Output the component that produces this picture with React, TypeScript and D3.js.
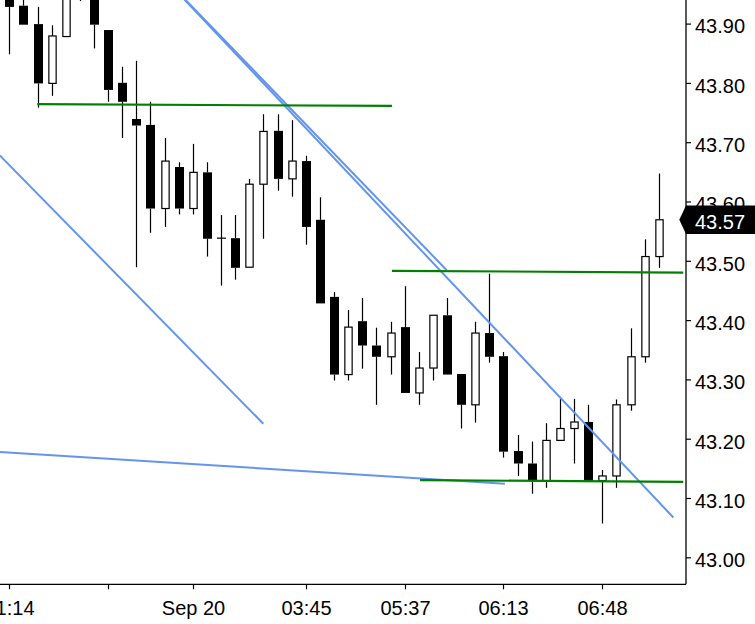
import React from "react";
import * as d3 from "d3";

// ---- data ----
const opens = [43.958, 43.931, 43.9, 43.8, 43.879, 43.958, 43.96, 43.89, 43.801, 43.74, 43.73, 43.589, 43.659, 43.589, 43.65, 43.539, 43.539, 43.49, 43.63, 43.72, 43.639, 43.669, 43.57, 43.44, 43.309, 43.399, 43.358, 43.339, 43.389, 43.278, 43.32, 43.409, 43.31, 43.258, 43.379, 43.34, 43.18, 43.159, 43.13, 43.198, 43.218, 43.229, 43.13, 43.138, 43.258, 43.339, 43.508];
const highs = [43.974, 43.949, 43.929, 43.898, 43.974, 43.972, 43.97, 43.89, 43.828, 43.838, 43.769, 43.708, 43.667, 43.698, 43.667, 43.578, 43.578, 43.639, 43.748, 43.748, 43.738, 43.678, 43.608, 43.448, 43.418, 43.438, 43.388, 43.398, 43.458, 43.347, 43.409, 43.438, 43.31, 43.398, 43.479, 43.347, 43.207, 43.196, 43.227, 43.268, 43.268, 43.258, 43.148, 43.267, 43.387, 43.537, 43.648];
const lows = [43.849, 43.899, 43.759, 43.779, 43.879, 43.939, 43.859, 43.769, 43.708, 43.49, 43.548, 43.558, 43.579, 43.579, 43.508, 43.459, 43.469, 43.49, 43.538, 43.619, 43.609, 43.528, 43.429, 43.299, 43.299, 43.319, 43.258, 43.309, 43.278, 43.258, 43.299, 43.309, 43.218, 43.228, 43.329, 43.169, 43.138, 43.108, 43.118, 43.198, 43.159, 43.13, 43.058, 43.118, 43.248, 43.329, 43.489];
const closes = [43.929, 43.899, 43.8, 43.88, 43.965, 43.95, 43.899, 43.789, 43.769, 43.729, 43.589, 43.669, 43.589, 43.65, 43.538, 43.539, 43.489, 43.63, 43.719, 43.639, 43.669, 43.558, 43.429, 43.309, 43.389, 43.358, 43.339, 43.379, 43.278, 43.32, 43.409, 43.309, 43.258, 43.379, 43.339, 43.179, 43.159, 43.13, 43.198, 43.218, 43.229, 43.13, 43.138, 43.258, 43.339, 43.508, 43.57];

const priceTicks = [43.0, 43.1, 43.2, 43.3, 43.4, 43.5, 43.6, 43.7, 43.8, 43.9];
const timeTickIndex = [0, 7, 13, 21, 28, 35, 42];
const timeTickLabels = ["21:14", "", "Sep 20", "03:45", "05:37", "06:13", "06:48"];

const lastPrice = 43.57;

// trendlines: [startIndex, startPrice, endIndex, endPrice]
const greenLines: number[][] = [
  [1.98, 43.765, 27.1, 43.762],
  [27.1, 43.484, 47.73, 43.481],
  [29.09, 43.131, 47.73, 43.128],
];
const blueLines: number[][] = [
  [10.0, 44.002, 30.98, 43.485],
  [10.0, 44.002, 47.03, 43.068],
  [-3.0, 43.735, 17.99, 43.226],
  [-3.0, 43.182, 35.1, 43.125],
];

const W = 755;
const H = 624;
const plotRight = 686;
const plotBottom = 584.3;
const FONT = "'Liberation Sans', Arial, Helvetica, sans-serif";

export default function App() {
  const x = d3.scaleLinear().domain([0, 46]).range([9.3, 658.8]);
  const y = d3.scaleLinear().domain([43.0, 43.9]).range([557.8, 24.1]);
  const line = d3
    .line<[number, number]>()
    .x((d) => x(d[0]))
    .y((d) => y(d[1]));

  const bodyW = 9;
  const whiteW = 7.3;

  return (
    <svg
      width={W}
      height={H}
      style={{ position: "absolute", left: 0, top: 0, background: "#fff" }}
    >
      <defs>
        <clipPath id="plot">
          <rect x={0} y={0} width={plotRight} height={plotBottom} />
        </clipPath>
      </defs>
      <rect x={0} y={0} width={W} height={H} fill="#fff" />
      <g clipPath="url(#plot)">
        {opens.map((o, i) => {
          const c = closes[i];
          const cx = Math.round(x(i)) + 0.5;
          const top = y(Math.max(o, c));
          const bot = y(Math.min(o, c));
          const up = c > o;
          const doji = Math.abs(c - o) < 0.0005;
          return (
            <g key={i}>
              <line x1={cx} x2={cx} y1={y(highs[i])} y2={top} stroke="#000" strokeWidth={1.2} />
              <line x1={cx} x2={cx} y1={bot} y2={y(lows[i])} stroke="#000" strokeWidth={1.2} />
              {doji ? (
                <line x1={cx - bodyW / 2} x2={cx + bodyW / 2} y1={top} y2={top} stroke="#000" strokeWidth={1.2} />
              ) : up ? (
                <rect x={cx - whiteW / 2} y={top} width={whiteW} height={bot - top} fill="#fff" stroke="#000" strokeWidth={1.2} />
              ) : (
                <rect x={cx - bodyW / 2} y={top} width={bodyW} height={bot - top} fill="#000" />
              )}
            </g>
          );
        })}
        {blueLines.map((l, i) => (
          <path
            key={"b" + i}
            d={line([
              [l[0], l[1]],
              [l[2], l[3]],
            ]) as string}
            fill="none"
            stroke="#6495ED"
            strokeWidth={2}
          />
        ))}
        {greenLines.map((l, i) => (
          <path
            key={"g" + i}
            d={line([
              [l[0], l[1]],
              [l[2], l[3]],
            ]) as string}
            fill="none"
            stroke="#008000"
            strokeWidth={2.2}
          />
        ))}
      </g>
      {/* axes */}
      <line x1={plotRight} x2={plotRight} y1={0} y2={plotBottom} stroke="#000" strokeWidth={1.3} />
      <line x1={0} x2={plotRight} y1={plotBottom} y2={plotBottom} stroke="#000" strokeWidth={1.3} />
      {priceTicks.map((p) => (
        <g key={"p" + p}>
          <line x1={plotRight} x2={plotRight + 5} y1={y(p)} y2={y(p)} stroke="#000" strokeWidth={1.2} />
          <text x={695} y={y(p) + 9.3} fontFamily={FONT} fontSize={20} fill="#000">
            {p.toFixed(2)}
          </text>
        </g>
      ))}
      {timeTickIndex.map((ti, k) => {
        const tx = Math.round(x(ti)) + 0.5;
        return (
          <g key={"t" + k}>
            <line x1={tx} x2={tx} y1={plotBottom} y2={plotBottom + 5} stroke="#000" strokeWidth={1.2} />
            {timeTickLabels[k] && (
              <text x={tx} y={615} textAnchor="middle" fontFamily={FONT} fontSize={20} fill="#000">
                {timeTickLabels[k]}
              </text>
            )}
          </g>
        );
      })}
      {/* last price tag */}
      <path
        d={`M${679.3},${y(lastPrice)} L${686},${y(lastPrice) - 14.2} L${W},${y(lastPrice) - 14.2} L${W},${y(lastPrice) + 14.2} L${686},${y(lastPrice) + 14.2} Z`}
        fill="#000"
      />
      <text x={695} y={y(lastPrice) + 9} fontFamily={FONT} fontSize={20} fill="#fff">
        {lastPrice.toFixed(2)}
      </text>
    </svg>
  );
}
